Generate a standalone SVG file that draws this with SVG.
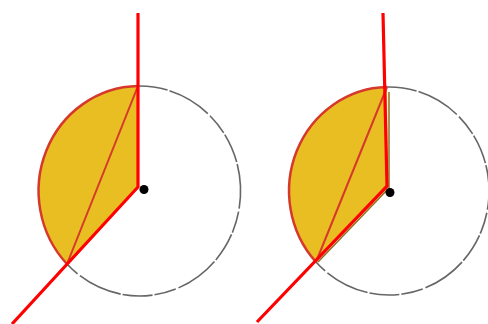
<svg xmlns="http://www.w3.org/2000/svg" width="488" height="324" viewBox="0 0 488 324">
<style>
.fill{fill:#e9be23;stroke:none}
.arc{fill:none;stroke:#d6382c;stroke-width:2.5}
.chord{fill:none;stroke:#d6382c;stroke-width:2}
.circ{fill:none;stroke:#666;stroke-width:1.6;stroke-dasharray:30 2 45 3 22 2}
.ray{fill:none;stroke:#f00;stroke-width:3.2;stroke-linecap:butt}
.edge{fill:none;stroke:#8a7020;stroke-width:1.5}
</style>
<g id="figure-left">
<path class="circ" d="M138,86 A101,105 0 1 1 67,264"/>
<path class="fill" d="M138,86 A101,105 0 0 0 67,264 L138,187 Z"/>
<path class="arc" d="M138,86 A101,105 0 0 0 67,264"/>
<path class="chord" d="M138,86 L67,264"/>
<circle cx="144" cy="189.5" r="4.5" fill="#000"/>
</g>
<g id="figure-right">
<path class="circ" d="M387,87 A100,104 0 1 1 316,262"/>
<path class="fill" d="M387,87 A100,104 0 0 0 316,262 L388,188 Z"/>
<path class="edge" d="M389,92 L389,188 L318,262"/>
<path class="arc" d="M387,87 A100,104 0 0 0 316,262"/>
<path class="chord" d="M387,87 L316,262"/>
<circle cx="390" cy="192.5" r="4.5" fill="#000"/>
</g>
<g id="connectors">
<path class="ray" d="M138,13 L138,187 L12,324"/>
<path class="ray" d="M383,13 L387,186 L257,322"/>
</g>
</svg>
